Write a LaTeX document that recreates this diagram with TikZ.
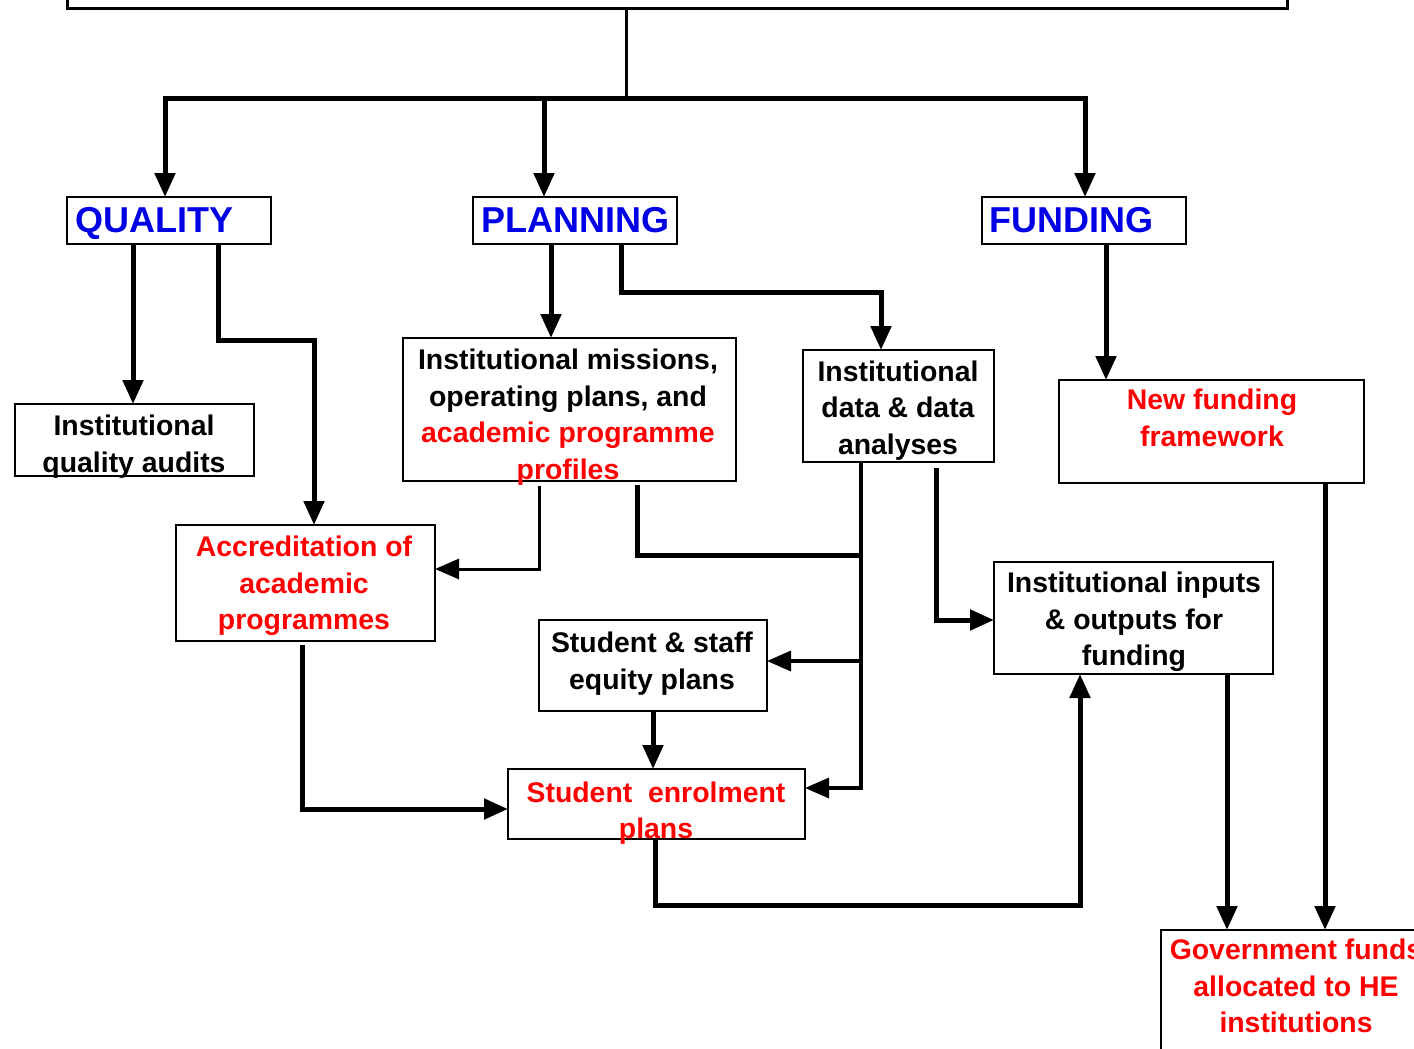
\documentclass[tikz,border=0pt]{standalone}
\usepackage{fontspec}
\setmainfont{Liberation Sans}
\usetikzlibrary{arrows.meta,calc}
\definecolor{hred}{RGB}{255,0,0}
\definecolor{hblue}{RGB}{0,0,230}
\begin{document}
\begin{tikzpicture}[x=1pt,y=-1pt,
  box/.style={draw,line width=2pt,inner sep=0pt,outer sep=0pt},
  txt/.style={font=\fontsize{28.4}{36.5}\selectfont\bfseries,align=center,inner sep=0pt},
  head/.style={font=\fontsize{36}{40}\selectfont\bfseries,text=hblue,inner sep=0pt,anchor=base west},
  thk/.style={line width=5pt},
  mid/.style={line width=3.5pt},
  thn/.style={line width=3pt},
  tip/.style={-{Triangle[length=24pt,width=20pt]}},
]
\useasboundingbox (0,0) rectangle (1414,1049);
\clip (0,0) rectangle (1414,1049);
\fill[white] (0,0) rectangle (1414,1049);

% boxes
\node[box,line width=3pt,minimum width=1220pt,minimum height=39pt] (top) at (677,-10.5) {};
\node[box,minimum width=204pt,minimum height=47pt] (qual) at (169,220.5) {};
\node[box,minimum width=204pt,minimum height=47pt] (plan) at (575,220.5) {};
\node[box,minimum width=204pt,minimum height=47pt] (fund) at (1084,220.5) {};
\node[box,minimum width=239pt,minimum height=72pt] (iqa) at (134.5,440) {};
\node[box,minimum width=259pt,minimum height=116pt] (accr) at (305.5,583) {};
\node[box,minimum width=333pt,minimum height=143pt] (miss) at (569.5,409.5) {};
\node[box,minimum width=191pt,minimum height=112pt] (data) at (898.5,406) {};
\node[box,minimum width=305pt,minimum height=103pt] (newf) at (1211.5,431.5) {};
\node[box,minimum width=279pt,minimum height=112pt] (inp) at (1133.5,618) {};
\node[box,minimum width=228pt,minimum height=91pt] (equity) at (653,665.5) {};
\node[box,minimum width=297pt,minimum height=70pt] (enrol) at (656.5,804) {};
\node[box,minimum width=289pt,minimum height=170pt] (gov) at (1305.5,1015) {};

% connectors
\coordinate (bar) at (626,98);
\coordinate (j1) at (861,555);
\coordinate (j2) at (861,661);
\draw[thn] ($(top.south west)+(559,0)$) -- (bar);
\draw[thk,tip] (bar) -| ($(qual.north west)+(98,0)$);
\draw[thk,tip] (bar) -| ($(plan.north west)+(71,0)$);
\draw[thk,tip] (bar) -| ($(fund.north west)+(103,0)$);
\draw[thk,tip] ($(qual.south west)+(66,0)$) -- (iqa.north -| 133,0);
\draw[thk,tip] ($(qual.south west)+(151,0)$) |- (314,340) -- (accr.north -| 314,0);
\draw[thk,tip] (plan.south -| 551,0) -- (miss.north -| 551,0);
\draw[thk,tip] (plan.south -| 621,0) |- (881,292) -- (data.north -| 881,0);
\draw[thk,tip] (fund.south -| 1106,0) -- (newf.north -| 1106,0);
\draw[thn,tip] ($(miss.south -| 539,0)+(0,5)$) |- (accr.east |- 0,569);
\draw[thk] ($(miss.south -| 637,0)+(0,4)$) |- (j1);
\draw[mid,tip] (data.south -| 861,0) |- (enrol.east |- 0,788);
\draw[mid,tip] (j2) -- (equity.east |- j2);
\draw[thk,tip] ($(data.south -| 936,0)+(0,6)$) |- (inp.west |- 0,620);
\draw[thk,tip] (equity.south -| 653,0) -- (enrol.north -| 653,0);
\draw[thk,tip] ($(accr.south -| 302,0)+(0,4)$) |- (enrol.west |- 0,809);
\draw[thk,tip] (enrol.south -| 655,0) |- (1080,905) -- (inp.south -| 1080,0);
\draw[thk,tip] (inp.south -| 1227,0) -- (gov.north -| 1227,0);
\draw[thk,tip] (newf.south -| 1325,0) -- (gov.north -| 1325,0);

% texts
\node[head] (tq) at (75,232) {QUALITY};
\node[head] (tp) at (481,232) {PLANNING};
\node[head] (tf) at (989,232) {FUNDING};
\node[txt] (tiqa) at (134,446.5) {Institutional\\quality audits};
\node[txt,text=hred] (taccr) at (304,586) {Accreditation of\\academic\\programmes};
\node[txt] (tmiss) at (568,417) {Institutional missions,\\operating plans, and\\\textcolor{hred}{academic programme}\\\textcolor{hred}{profiles}};
\node[txt] (tdata) at (898,410.5) {Institutional\\data \& data\\analyses};
\node[txt,text=hred] (tnewf) at (1212,418) {New funding\\framework};
\node[txt] (tinp) at (1134,622) {Institutional inputs\\\& outputs for\\funding};
\node[txt] (tequity) at (652,663.5) {Student \& staff\\equity plans};
\node[txt,text=hred] (tenrol) at (656,813) {Student~~enrolment\\plans};
\node[txt,text=hred] (tgov) at (1296,986) {Government funds\\allocated to HE\\institutions};
\end{tikzpicture}
\end{document}
